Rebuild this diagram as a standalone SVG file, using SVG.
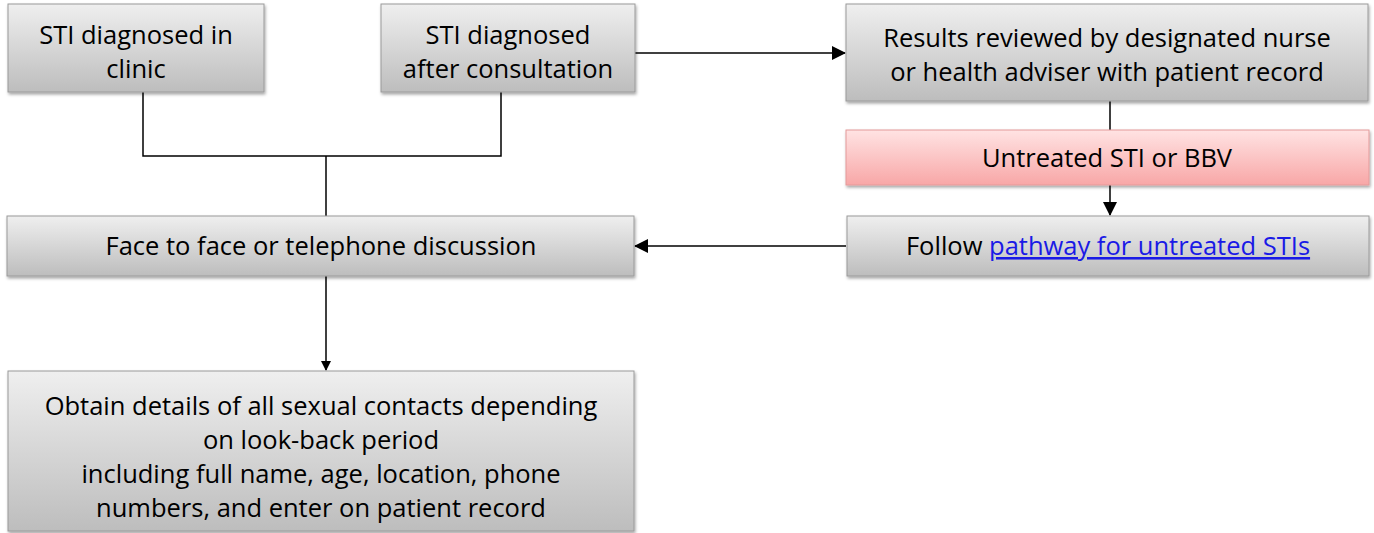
<svg xmlns="http://www.w3.org/2000/svg" width="1374" height="533" viewBox="0 0 1374 533">
<style>
.box{fill:url(#g);stroke:#9a9a9a;stroke-width:1;filter:url(#sh)}
.pink{fill:url(#p);stroke:#e49a9a;stroke-width:1;filter:url(#sh)}
text{font-family:"Open Sans","Liberation Sans",Arial,sans-serif;font-size:25.5px;fill:#000;text-anchor:middle}
.ln{stroke:#000;stroke-width:1.5;fill:none}
.link{fill:#1a1ae6;text-decoration:underline}
</style>
<defs>
<linearGradient id="g" x1="0" y1="0" x2="0" y2="1"><stop offset="0" stop-color="#efefef"/><stop offset="1" stop-color="#bdbdbd"/></linearGradient>
<linearGradient id="p" x1="0" y1="0" x2="0" y2="1"><stop offset="0" stop-color="#ffe3e3"/><stop offset="1" stop-color="#f8a7a7"/></linearGradient>
<filter id="sh" x="-5%" y="-10%" width="110%" height="130%"><feDropShadow dx="1" dy="2" stdDeviation="1.5" flood-color="#000" flood-opacity="0.35"/></filter>
<marker id="a" markerWidth="10" markerHeight="10" refX="9" refY="5" orient="auto" markerUnits="userSpaceOnUse"><path d="M0,0 L10,5 L0,10 Z" fill="#000"/></marker>
<marker id="as" markerWidth="14" markerHeight="14" refX="13" refY="7" orient="auto" markerUnits="userSpaceOnUse"><path d="M0,0 L14,7 L0,14 Z" fill="#000"/></marker>
</defs>
<g id="connectors">
<path class="ln" d="M143,92 V156 H501 V92"/>
<path class="ln" d="M326,156 V216"/>
<path class="ln" d="M635,53 H845" marker-end="url(#as)"/>
<path class="ln" d="M1110,101 V130"/>
<path class="ln" d="M1110,185 V215" marker-end="url(#as)"/>
<path class="ln" d="M846,246 H635" marker-end="url(#as)"/>
<path class="ln" d="M326,276 V370" marker-end="url(#a)"/>
</g>
<g id="n1"><rect class="box" x="8" y="4" width="256" height="88"/><text x="136" y="44">STI diagnosed in</text><text x="136" y="78">clinic</text></g>
<g id="n2"><rect class="box" x="381" y="4" width="254" height="88"/><text x="508" y="44">STI diagnosed</text><text x="508" y="78">after consultation</text></g>
<g id="n3"><rect class="box" x="846" y="4" width="522" height="97"/><text x="1107" y="47">Results reviewed by designated nurse</text><text x="1107" y="81">or health adviser with patient record</text></g>
<g id="n4"><rect class="pink" x="846" y="130" width="523" height="55"/><text x="1107" y="167">Untreated STI or BBV</text></g>
<g id="n5"><rect class="box" x="847" y="216" width="522" height="60"/><text x="1108" y="255">Follow <tspan class="link">pathway for untreated STIs</tspan></text></g>
<g id="n6"><rect class="box" x="7" y="216" width="627" height="60"/><text x="321" y="255">Face to face or telephone discussion</text></g>
<g id="n7"><rect class="box" x="8" y="371" width="626" height="160"/><text x="321" y="415">Obtain details of all sexual contacts depending</text><text x="321" y="449">on look-back period</text><text x="321" y="483">including full name, age, location, phone</text><text x="321" y="517">numbers, and enter on patient record</text></g>
</svg>
